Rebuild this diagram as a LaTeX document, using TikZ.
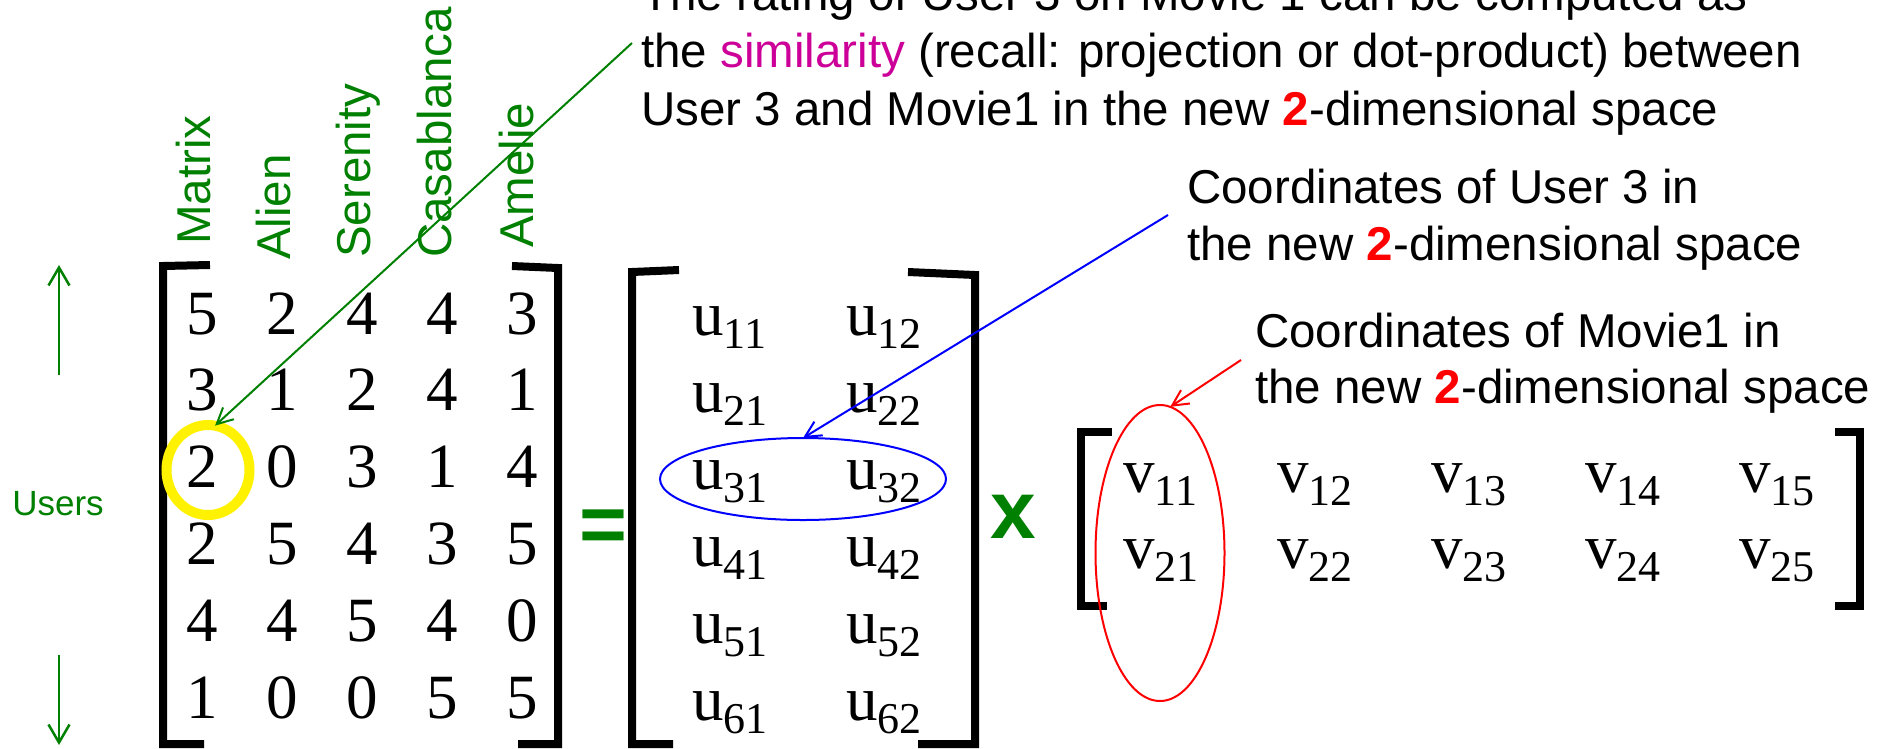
\documentclass[tikz,border=0pt]{standalone}
\usepackage{fontspec}
\setmainfont{Liberation Sans}
\newfontfamily\tms{Liberation Serif}
\usetikzlibrary{arrows.meta,shapes.geometric}
\definecolor{pgreen}{RGB}{0,128,0}
\definecolor{pmag}{RGB}{204,0,153}
\newcommand\mysub[1]{\raisebox{-13pt}{\fontsize{44}{44}\selectfont #1}}
\tikzset{
  lbl/.style={inner sep=0pt, font=\fontsize{47.5}{57}\selectfont, anchor=base west},
  hdr/.style={inner sep=0pt, font=\fontsize{47.5}{57}\selectfont, text=pgreen, rotate=90, anchor=base west},
  num/.style={inner sep=0pt, font=\tms\fontsize{63}{63}\selectfont, anchor=base},
  ent/.style={inner sep=0pt, font=\tms\fontsize{63}{63}\selectfont, anchor=base west},
  brk/.style={line width=8pt},
  garrow/.style={pgreen, line width=2.5pt, -{Straight Barb[length=18pt,width=21pt]}},
  thinarrow/.style={line width=2pt, -{Straight Barb[length=16pt,width=16pt]}},
  ring/.style={ellipse, inner sep=0pt, outer sep=0pt},
  bigop/.style={inner sep=0pt, text=pgreen, font=\bfseries\fontsize{82}{82}\selectfont}
}
\begin{document}
\begin{tikzpicture}[x=1pt,y=-1pt]
\useasboundingbox (0,0) rectangle (1879,748);

% top explanatory text
\node[lbl] (title1) at (641,10) {The rating of User 3 on Movie 1 can be computed as};
\node[lbl] (title2) at (641,67.5) {the {\color{pmag}similarity} (recall: projection or dot-product) between};
\node[lbl] (title3) at (641,125) {User 3 and Movie1 in the new {\color{red}\bfseries 2}-dimensional space};

\node[lbl] (ucoord1) at (1187,203) {Coordinates of User 3 in};
\node[lbl] (ucoord2) at (1187,260) {the new {\color{red}\bfseries 2}-dimensional space};

\node[lbl] (vcoord1) at (1255,347) {Coordinates of Movie1 in};
\node[lbl] (vcoord2) at (1255,403) {the new {\color{red}\bfseries 2}-dimensional space};

% column headers
\node[hdr] (hMatrix) at (210,245) {Matrix};
\node[hdr] (hAlien) at (290,260) {Alien};
\node[hdr] (hSerenity) at (370,258) {Serenity};
\node[hdr] (hCasablanca) at (451,258) {Casablanca};
\node[hdr] (hAmelie) at (533,248) {Amelie};

% users label and arrows
\node[inner sep=0pt, anchor=base, text=pgreen, font=\fontsize{35}{35}\selectfont] (users) at (58,515) {Users};
\coordinate (upA) at (59,375);
\coordinate (upB) at (59,265);
\coordinate (dnA) at (59,655);
\coordinate (dnB) at (59,745);
\draw[garrow] (upA) -- (upB);
\draw[garrow] (dnA) -- (dnB);

% ratings matrix
\foreach \row [count=\r] in {{5,2,4,4,3},{3,1,2,4,1},{2,0,3,1,4},{2,5,4,3,5},{4,4,5,4,0},{1,0,0,5,5}}{
  \foreach \v [count=\c] in \row {
    \node[num] (m\r\c) at ({202+80*(\c-1)},{334+76.8*(\r-1)}) {\v};
  }
}
\draw[brk] (210,265) -- (163,266) -- (163,744) -- (204,744);
\draw[brk] (512,266) -- (558,268) -- (558,744) -- (518,744);

% yellow circle
\node[ring, draw=yellow, line width=10pt, minimum width=83pt, minimum height=90pt] (yc) at (208,470) {};

% equals
\node[bigop, anchor=base] (eq) at (603,552) {=};

% U matrix
\foreach \r in {1,...,6}{
  \node[ent] (u\r1) at (692,{335+77*(\r-1)}) {u\mysub{\r1}};
  \node[ent] (u\r2) at (846,{335+77*(\r-1)}) {u\mysub{\r2}};
}
\draw[brk] (679,270) -- (632,272) -- (632,744) -- (673,744);
\draw[brk] (908,272) -- (975,275) -- (975,744) -- (918,744);
\node[ring, draw=blue, line width=2pt, minimum width=286pt, minimum height=82pt] (ue) at (803,479) {};

% times
\node[bigop, anchor=base west] (times) at (990,538) {x};

% V matrix
\foreach \r in {1,2}{
  \foreach \c in {1,...,5}{
    \node[ent] (v\r\c) at ({1123+154*(\c-1)},{492+76*(\r-1)}) {v\mysub{\r\c}};
  }
}
\draw[brk] (1112,432) -- (1081,432) -- (1081,606) -- (1107,606);
\draw[brk] (1835,432) -- (1860,432) -- (1860,606) -- (1835,606);
\node[ring, draw=red, line width=2pt, minimum width=129pt, minimum height=296pt] (ve) at (1160,553) {};

% pointer arrows
\coordinate (gstart) at (632,43);
\coordinate (bstart) at (1168,215);
\coordinate (rstart) at (1241,360);
\draw[pgreen, line width=2pt, -{Straight Barb[length=16pt,width=16pt]}] (gstart) -- (yc.81);
\draw[thinarrow, blue] (bstart) -- (ue.north);
\draw[thinarrow, red] (rstart) -- (ve.86);
\end{tikzpicture}
\end{document}
